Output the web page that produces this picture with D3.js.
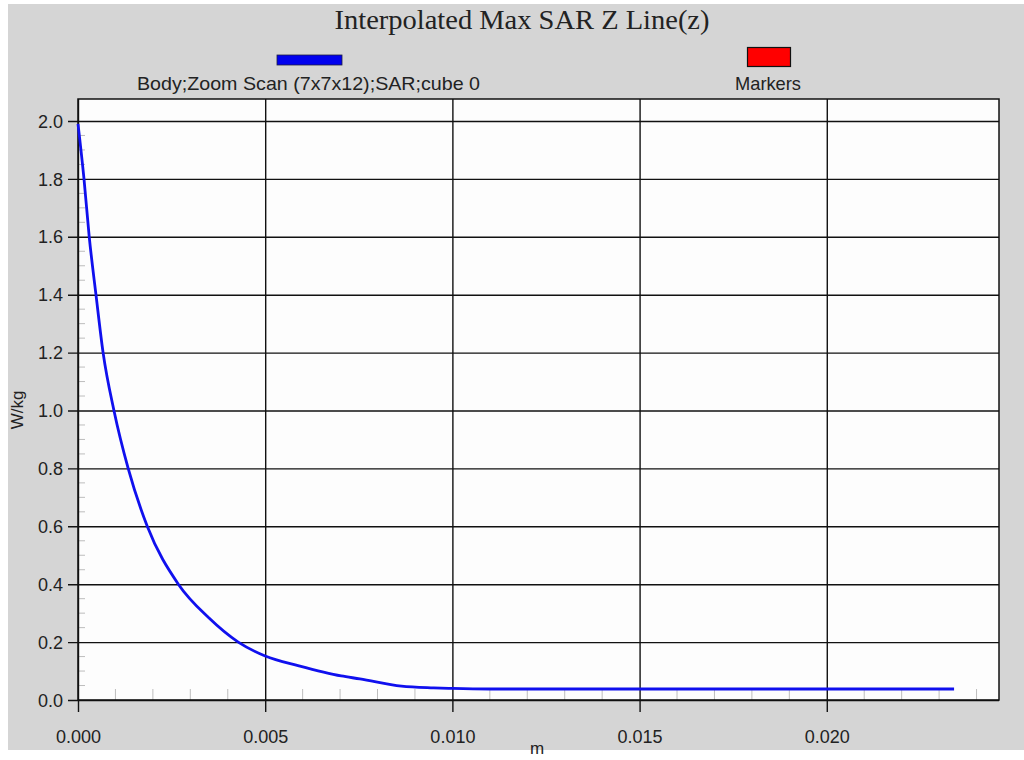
<!DOCTYPE html>
<html>
<head>
<meta charset="utf-8">
<script src="https://cdn.jsdelivr.net/npm/d3@7"></script>
<style>
  html, body { margin: 0; padding: 0; background: #ffffff; }
  svg { display: block; }
</style>
</head>
<body>
<svg id="chart" width="1024" height="760"></svg>
<script>
// SAR along the Z line (depth in metres, SAR in W/kg)
const depthM = [0, 0.00016, 0.0003, 0.00048, 0.00067, 0.00096, 0.00134, 0.00185,
  0.00268, 0.0035, 0.00428, 0.005, 0.0059, 0.00703, 0.00753, 0.00864, 0.0095,
  0.010, 0.011, 0.012, 0.015, 0.018, 0.021, 0.0234];
const sarWkg = [1.99, 1.80, 1.60, 1.40, 1.20, 1.00, 0.80, 0.60,
  0.40, 0.283, 0.20, 0.152, 0.118, 0.083, 0.073, 0.048, 0.042,
  0.040, 0.038, 0.038, 0.038, 0.038, 0.038, 0.038];

const xTicks = [0, 0.005, 0.010, 0.015, 0.020];
const yTicks = [0.0, 0.2, 0.4, 0.6, 0.8, 1.0, 1.2, 1.4, 1.6, 1.8, 2.0];
const xMinorTicks = d3.range(1, 25).map(i => i * 0.001).filter(v => Math.round(v * 1000) % 5 !== 0);
const yMinorTicks = d3.range(1, 41).map(i => i * 0.05).filter(v => Math.round(v * 100) % 20 !== 0);

const titleText = "Interpolated Max SAR Z Line(z)";
const seriesName = "Body;Zoom Scan (7x7x12);SAR;cube 0";
const markersName = "Markers";
const xLabel = "m";
const yLabel = "W/kg";

const svg = d3.select("#chart");
const plot = { left: 78, right: 999, top: 99, bottom: 700 };

const x = d3.scaleLinear().domain([0, 0.0246]).range([plot.left, plot.right]);
const y = d3.scaleLinear().domain([0, 2.076]).range([plot.bottom, plot.top]);

const sans = "'Liberation Sans', Arial, sans-serif";

// grey panel behind everything
svg.append("rect").attr("x", 8).attr("y", 4).attr("width", 1016).attr("height", 746)
  .attr("fill", "#d5d5d5");

// title
svg.append("text").attr("x", 522).attr("y", 29).attr("text-anchor", "middle")
  .attr("font-family", "'Liberation Serif', 'Times New Roman', serif")
  .attr("font-size", 27).attr("fill", "#222")
  .attr("textLength", 375).attr("lengthAdjust", "spacingAndGlyphs")
  .text(titleText);

// legend
svg.append("rect").attr("x", 277).attr("y", 55).attr("width", 65).attr("height", 10)
  .attr("fill", "#0000ee").attr("stroke", "#202040").attr("stroke-width", 0.8);
svg.append("text").attr("x", 308.5).attr("y", 90).attr("text-anchor", "middle")
  .attr("font-family", sans).attr("font-size", 19).attr("fill", "#222")
  .attr("textLength", 343).attr("lengthAdjust", "spacingAndGlyphs")
  .text(seriesName);
svg.append("rect").attr("x", 747.5).attr("y", 47.5).attr("width", 43).attr("height", 19)
  .attr("fill", "#ff0000").attr("stroke", "#111").attr("stroke-width", 1.2);
svg.append("text").attr("x", 768).attr("y", 90).attr("text-anchor", "middle")
  .attr("font-family", sans).attr("font-size", 19).attr("fill", "#222")
  .attr("textLength", 66).attr("lengthAdjust", "spacingAndGlyphs")
  .text(markersName);

// plot background
svg.append("rect").attr("x", plot.left).attr("y", plot.top)
  .attr("width", plot.right - plot.left).attr("height", plot.bottom - plot.top)
  .attr("fill", "#fdfdfd");

// minor ticks
svg.append("g").selectAll("line").data(xMinorTicks).join("line")
  .attr("x1", d => x(d)).attr("x2", d => x(d))
  .attr("y1", plot.bottom).attr("y2", plot.bottom - 11)
  .attr("stroke", "#bdbdbd").attr("stroke-width", 1);
svg.append("g").selectAll("line").data(yMinorTicks).join("line")
  .attr("x1", plot.left).attr("x2", plot.left + 7)
  .attr("y1", d => y(d)).attr("y2", d => y(d))
  .attr("stroke", "#bdbdbd").attr("stroke-width", 1);

// x axis with grid lines through the plot
const xAxis = d3.axisBottom(x).tickValues(xTicks).tickFormat(d3.format(".3f"))
  .tickSizeInner(-(plot.bottom - plot.top)).tickSizeOuter(0).tickPadding(0);
const gx = svg.append("g").attr("transform", `translate(0,${plot.bottom})`).call(xAxis);
gx.select(".domain").remove();
gx.selectAll(".tick line").attr("stroke", "#111").attr("stroke-width", 1.4)
  .attr("y1", 12);
gx.selectAll(".tick text").attr("y", 30)
  .attr("font-family", sans).attr("font-size", 18).attr("fill", "#222");

// y axis with grid lines through the plot
const yAxis = d3.axisLeft(y).tickValues(yTicks).tickFormat(d3.format(".1f"))
  .tickSizeInner(-(plot.right - plot.left)).tickSizeOuter(0).tickPadding(0);
const gy = svg.append("g").attr("transform", `translate(${plot.left},0)`).call(yAxis);
gy.select(".domain").remove();
gy.selectAll(".tick line").attr("stroke", "#111").attr("stroke-width", 1.4)
  .attr("x1", -10);
gy.selectAll(".tick text").attr("x", -15).attr("dy", "0.34em")
  .attr("font-family", sans).attr("font-size", 18).attr("fill", "#222");

// plot frame
svg.append("rect").attr("x", plot.left).attr("y", plot.top)
  .attr("width", plot.right - plot.left).attr("height", plot.bottom - plot.top)
  .attr("fill", "none").attr("stroke", "#111").attr("stroke-width", 1.5);

// axis titles
svg.append("text").attr("x", 537).attr("y", 754).attr("text-anchor", "middle")
  .attr("font-family", sans).attr("font-size", 17).attr("fill", "#222").text(xLabel);
svg.append("text").attr("transform", "translate(23,410) rotate(-90)")
  .attr("text-anchor", "middle")
  .attr("font-family", sans).attr("font-size", 17).attr("fill", "#222").text(yLabel);

// SAR curve
const points = depthM.map((d, i) => [d, sarWkg[i]]);
const line = d3.line().x(d => x(d[0])).y(d => y(d[1])).curve(d3.curveMonotoneX);
svg.append("path").datum(points).attr("d", line)
  .attr("fill", "none").attr("stroke", "#1010ee").attr("stroke-width", 2.8)
  .attr("stroke-linejoin", "round");
</script>
</body>
</html>
